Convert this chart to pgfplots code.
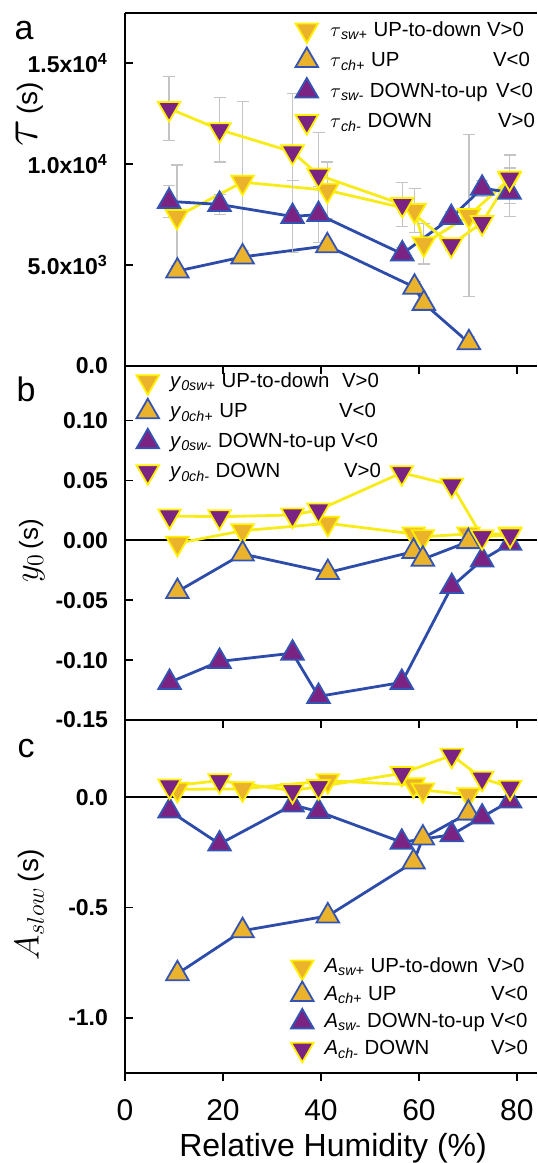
\documentclass[border=0pt]{standalone}
\usepackage{fontspec}
\setmainfont{Liberation Sans}
\usepackage{pgfplots}
\pgfplotsset{compat=1.18}

\definecolor{lyel}{HTML}{F7EB1A}
\definecolor{lblue}{HTML}{2D4BA8}
\definecolor{gold}{HTML}{EBB32B}
\definecolor{purp}{HTML}{7B2383}
\definecolor{byel}{HTML}{FFF000}
\definecolor{bblue}{HTML}{3454B4}
\definecolor{errg}{HTML}{C4C4C4}

\pgfplotsset{
  panel/.style={
    scale only axis, width=206pt,
    xmin=0, xmax=84.1,
    axis x line*=box, axis y line*=left,
    xtick={0,20,40,60,80}, xtick pos=bottom, ytick pos=left,
    tick align=inside, major tick length=4pt,
    xtick style={yshift=-4pt, line width=0.8pt, black},
    ytick style={line width=0.8pt, black},
    axis line style={line width=1pt, black},
    scaled y ticks=false, scaled x ticks=false,
    yticklabel style={font=\fontsize{11.5}{12}\selectfont\bfseries, xshift=-5pt},
    xticklabel style={font=\fontsize{15}{15}\selectfont, yshift=-9.5pt},
    clip=false,
    legend image code/.code={\draw[#1] plot coordinates {(0cm,0cm)};},
    legend cell align=left,
  },
  zeroline/.style={extra y ticks={0}, extra y tick labels={},
    extra y tick style={grid=major, major grid style={black, line width=1pt}}},
  swp/.style={color=lyel, line width=1.4pt, mark=triangle*, mark size=6.5pt,
     mark options={rotate=180, fill=gold, draw=byel, line width=0.9pt, solid}},
  chp/.style={color=lblue, line width=1.4pt, mark=triangle*, mark size=6.5pt,
     mark options={fill=gold, draw=bblue, line width=0.9pt, solid}},
  swm/.style={color=lblue, line width=1.4pt, mark=triangle*, mark size=6.5pt,
     mark options={fill=purp, draw=bblue, line width=0.9pt, solid}},
  chm/.style={color=lyel, line width=1.4pt, mark=triangle*, mark size=6.5pt,
     mark options={rotate=180, fill=purp, draw=byel, line width=0.9pt, solid}},
}

\begin{document}
\begin{tikzpicture}
\path[use as bounding box] (0,0) rectangle (268.5pt,-581.5pt);

% ---------------- panel a ----------------
\begin{axis}[panel, at={(62.5pt,-6.65pt)}, anchor=north west, height=176.35pt,
  ymin=0, ymax=17460,
  ytick={0,5000,10000,15000},
  yticklabels={0.0, 5.0x10\textsuperscript{3}, 1.0x10\textsuperscript{4}, 1.5x10\textsuperscript{4}},
  xticklabels={},
  ylabel={\fontsize{28}{28}\selectfont$\tau$\fontsize{14}{14}\selectfont\,(s)},
  ylabel style={at={(axis description cs:-0.231,0.714)}, anchor=center},
  legend style={draw=none, fill=none, at={(axis description cs:0.413,0.997)}, anchor=north west,
    inner sep=0pt, row sep=0pt, font=\fontsize{10.2}{12}\selectfont,
    nodes={inner sep=0pt, text height=10.75pt, text depth=4.5pt},
    /tikz/every odd column/.append style={column sep=6pt}},
]
\addplot[swp, error bars/.cd, y dir=both, y explicit,
  error bar style={errg, line width=0.6pt, solid}, error mark options={rotate=90, errg, mark size=3pt, line width=0.6pt}]
  table[x=x, y=y, y error=e, row sep=\\] {x y e\\ 10.6 7400 2550\\ 24.0 9100 4000\\ 41.3 8700 1400\\ 59.1 7700 1100\\ 61.0 6050 1000\\ 70.2 7450 4000\\ 78.5 9250 1200\\};
\addlegendentry{\makebox[78.5pt][l]{$\tau$\textsubscript{\textit{sw+}} UP-to-down}V>0}
\addplot[chp, error bars/.cd, y dir=both, y explicit,
  error bar style={errg, line width=0.6pt, solid}, error mark options={rotate=90, errg, mark size=3pt, line width=0.6pt}]
  table[x=x, y=y, y error=e, row sep=\\] {x y e\\ 10.7 4700 250\\ 24.0 5400 300\\ 41.3 5950 250\\ 59.1 3900 300\\ 61.0 3100 300\\ 70.2 1150 300\\};
\addlegendentry{\makebox[81.5pt][l]{$\tau$\textsubscript{\textit{ch+}} UP}V<0}
\addplot[swm, error bars/.cd, y dir=both, y explicit,
  error bar style={errg, line width=0.6pt, solid}, error mark options={rotate=90, errg, mark size=3pt, line width=0.6pt}]
  table[x=x, y=y, y error=e, row sep=\\] {x y e\\ 9.0 8150 800\\ 19.3 8000 500\\ 34.2 7400 1800\\ 39.5 7500 1400\\ 56.6 5550 300\\ 66.6 7350 300\\ 72.9 8800 400\\ 78.5 8600 1200\\};
\addlegendentry{\makebox[83pt][l]{$\tau$\textsubscript{\textit{sw-}} DOWN-to-up}V<0}
\addplot[chm, error bars/.cd, y dir=both, y explicit,
  error bar style={errg, line width=0.6pt, solid}, error mark options={rotate=90, errg, mark size=3pt, line width=0.6pt}]
  table[x=x, y=y, y error=e, row sep=\\] {x y e\\ 9.0 12750 1600\\ 19.3 11700 1600\\ 34.2 10600 2900\\ 39.5 9450 2100\\ 56.6 8000 1100\\ 66.6 6000 300\\ 72.9 7100 300\\ 78.5 9300 300\\};
\addlegendentry{\makebox[84pt][l]{$\tau$\textsubscript{\textit{ch-}} DOWN}V>0}
\node[font=\fontsize{17}{17}\selectfont] at (axis description cs:-0.245,0.95) {a};
\end{axis}

% ---------------- panel b ----------------
\begin{axis}[panel, zeroline, at={(62.5pt,-183pt)}, anchor=north west, height=177pt,
  ymin=-0.15, ymax=0.1455,
  ytick={-0.15,-0.1,-0.05,0,0.05,0.1},
  yticklabels={-0.15,-0.10,-0.05,0.00,0.05,0.10},
  xticklabels={},
  ylabel={\fontsize{17}{17}\selectfont$y_0$\fontsize{13}{13}\selectfont\,(s)},
  ylabel style={at={(axis description cs:-0.226,0.478)}, anchor=center},
  legend style={draw=none, fill=none, at={(axis description cs:0.027,0.999)}, anchor=north west,
    inner sep=0pt, row sep=0pt, font=\fontsize{10.2}{12}\selectfont,
    nodes={inner sep=0pt, text height=10.5pt, text depth=4.5pt},
    /tikz/every odd column/.append style={column sep=5.5pt}},
]
\addplot[swp] table[row sep=\\] {x y\\ 10.7 -0.0025\\ 24.0 0.008\\ 41.4 0.0142\\ 58.9 0.0053\\ 60.8 0.003\\ 70.1 0.0053\\ 78.6 0.0053\\};
\addlegendentry{\makebox[86pt][l]{\textit{y}\textsubscript{\textit{0sw+}} UP-to-down}V>0}
\addplot[chp] table[row sep=\\] {x y\\ 10.7 -0.0428\\ 24.0 -0.0114\\ 41.4 -0.0269\\ 58.9 -0.0094\\ 60.8 -0.0158\\ 70.1 -0.0011\\};
\addlegendentry{\makebox[84.5pt][l]{\textit{y}\textsubscript{\textit{0ch+}} UP}V<0}
\addplot[swm] table[row sep=\\] {x y\\ 9.1 -0.1186\\ 19.3 -0.1011\\ 34.2 -0.0942\\ 39.5 -0.1303\\ 56.5 -0.1186\\ 66.7 -0.0386\\ 72.9 -0.0164\\ 78.6 -0.0025\\};
\addlegendentry{\makebox[85.5pt][l]{\textit{y}\textsubscript{\textit{0sw-}} DOWN-to-up}V<0}
\addplot[chm] table[row sep=\\] {x y\\ 9.1 0.0203\\ 19.3 0.0197\\ 34.2 0.0211\\ 39.5 0.0253\\ 56.5 0.0564\\ 66.7 0.0461\\ 72.9 0.003\\ 78.6 0.0044\\};
\addlegendentry{\makebox[87pt][l]{\textit{y}\textsubscript{\textit{0ch-}} DOWN}V>0}
\node[font=\fontsize{17}{17}\selectfont] at (axis description cs:-0.24,0.934) {b};
\end{axis}

% ---------------- panel c ----------------
\begin{axis}[panel, zeroline, at={(62.5pt,-360pt)}, anchor=north west, height=176.5pt,
  ymin=-1.25, ymax=0.35,
  ytick={-1,-0.5,0},
  yticklabels={-1.0,-0.5,0.0},
  xticklabels={0,20,40,60,80},
  xlabel={Relative Humidity (\%)},
  xlabel style={font=\fontsize{16}{16}\selectfont, at={(axis description cs:0.505,-0.212)}, anchor=center},
  ylabel={\fontsize{17}{17}\selectfont$A_{slow}$\fontsize{14}{14}\selectfont\,(s)},
  ylabel style={at={(axis description cs:-0.231,0.476)}, anchor=center},
  legend style={draw=none, fill=none, at={(axis description cs:0.402,0.34)}, anchor=north west,
    inner sep=0pt, row sep=0pt, font=\fontsize{10.2}{12}\selectfont,
    nodes={inner sep=0pt, text height=9.7pt, text depth=4pt},
    /tikz/every odd column/.append style={column sep=5.5pt}},
]
\addplot[swp] table[row sep=\\] {x y\\ 10.7 0.036\\ 24.0 0.038\\ 41.4 0.075\\ 58.9 0.056\\ 60.8 0.033\\ 70.1 0.011\\};
\addlegendentry{\makebox[81.6pt][l]{\textit{A}\textsubscript{\textit{sw+}} UP-to-down}V>0}
\addplot[chp] table[row sep=\\] {x y\\ 10.7 -0.80\\ 24.0 -0.605\\ 41.4 -0.538\\ 58.9 -0.294\\ 60.8 -0.185\\ 70.1 -0.072\\};
\addlegendentry{\makebox[83.3pt][l]{\textit{A}\textsubscript{\textit{ch+}} UP}V<0}
\addplot[swm] table[row sep=\\] {x y\\ 9.1 -0.062\\ 19.3 -0.212\\ 34.2 -0.035\\ 39.5 -0.065\\ 56.5 -0.204\\ 66.7 -0.170\\ 72.9 -0.090\\ 78.6 -0.017\\};
\addlegendentry{\textit{A}\textsubscript{\textit{sw-}} DOWN-to-up V<0}
\addplot[chm] table[row sep=\\] {x y\\ 9.1 0.051\\ 19.3 0.075\\ 34.2 0.030\\ 39.5 0.048\\ 56.5 0.108\\ 66.7 0.19\\ 72.9 0.086\\ 78.6 0.045\\};
\addlegendentry{\makebox[83.3pt][l]{\textit{A}\textsubscript{\textit{ch-}} DOWN}V>0}
\node[font=\fontsize{17}{17}\selectfont] at (axis description cs:-0.24,0.92) {c};
\end{axis}
\end{tikzpicture}
\end{document}
